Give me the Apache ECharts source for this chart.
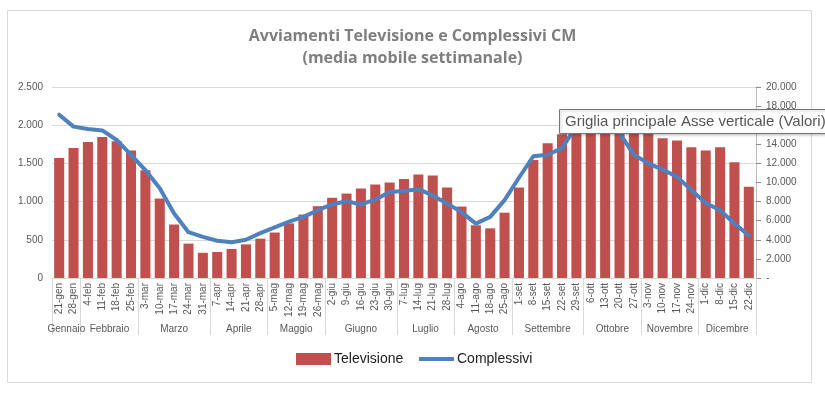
<!DOCTYPE html>
<html>
<head>
<meta charset="utf-8">
<script src="https://cdn.jsdelivr.net/npm/echarts@6/dist/echarts.min.js"></script>
<style>
html, body { margin: 0; padding: 0; background: #fff; }
#chart { width: 825px; height: 396px; }
</style>
</head>
<body>
<div id="chart"></div>
<script>
// settimane (asse categorie)
var settimane = ['21-gen','28-gen','4-feb','11-feb','18-feb','25-feb','3-mar','10-mar','17-mar','24-mar','31-mar',
	'7-apr','14-apr','21-apr','28-apr','5-mag','12-mag','19-mag','26-mag','2-giu','9-giu','16-giu','23-giu','30-giu',
	'7-lug','14-lug','21-lug','28-lug','4-ago','11-ago','18-ago','25-ago','1-set','8-set','15-set','22-set','29-set',
	'6-ott','13-ott','20-ott','27-ott','3-nov','10-nov','17-nov','24-nov','1-dic','8-dic','15-dic','22-dic'];
// mesi e numero di settimane per mese
var mesi = ['Gennaio','Febbraio','Marzo','Aprile','Maggio','Giugno','Luglio','Agosto','Settembre','Ottobre','Novembre','Dicembre'];
var settimaneMese = [2,4,5,4,4,5,4,4,5,4,4,4];
// Televisione (asse sinistro)
var televisione = [1570,1700,1780,1845,1790,1670,1410,1040,700,450,330,
	340,380,440,515,595,715,830,940,1050,1105,1170,1225,1250,
	1295,1355,1340,1185,935,690,650,855,1185,1545,1765,1880,1950,
	2000,2050,2000,1950,1910,1830,1800,1710,1670,1710,1515,1195];
// Complessivi (asse destro)
var complessivi = [17100,15850,15600,15450,14450,12900,11300,9400,6750,4800,4300,
	3900,3750,4000,4700,5300,5900,6400,7100,7700,8050,7700,8200,9000,
	9100,9300,8650,7800,6900,5700,6400,8150,10500,12750,12900,13600,15900,
	16300,16200,15200,12900,12000,11350,10600,9200,7850,7100,5700,4450];

function migliaia(v) {
	return String(v).replace(/\B(?=(\d{3})+(?!\d))/g, '.');
}

// asse dei mesi: mezze settimane, etichetta al centro del mese
var mezzi = [];
for (var k = 0; k <= settimane.length * 2; k++) mezzi.push('');
var confini = {};
var inizio = 0;
for (var m = 0; m < mesi.length; m++) {
	confini[inizio * 2] = true;
	mezzi[inizio * 2 + settimaneMese[m]] = mesi[m];
	inizio += settimaneMese[m];
}
confini[inizio * 2] = true;

var myChart = echarts.init(document.getElementById('chart'));
var option = {
	backgroundColor: '#fff',
	animation: false,
	textStyle: { fontFamily: 'Liberation Sans' },
	title: {
		text: 'Avviamenti Televisione e Complessivi CM\n(media mobile settimanale)',
		left: 'center',
		top: 20,
		textStyle: {
			color: '#7f7f7f',
			fontSize: 16,
			fontWeight: 'bold',
			lineHeight: 22,
			fontFamily: 'Open Sans'
		}
	},
	legend: [ {
		left: 291,
		top: 347,
		itemWidth: 35,
		itemHeight: 12,
		textStyle: { color: '#222', fontSize: 14, padding: [0, 0, 0, -2] },
		data: [ { name: 'Televisione', icon: 'rect' } ]
	}, {
		left: 414,
		top: 347,
		itemWidth: 35,
		itemHeight: 4,
		textStyle: { color: '#222', fontSize: 14, padding: [0, 0, 0, -2] },
		data: [ { name: 'Complessivi', icon: 'rect' } ]
	} ],
	grid: { left: 52, right: 69, top: 87, bottom: 118 },
	xAxis: [ {
		type: 'category',
		data: settimane,
		axisLine: { lineStyle: { color: '#d9d9d9' } },
		axisTick: { show: false },
		axisLabel: { rotate: 90, fontSize: 10, color: '#595959', margin: 5, interval: 0 }
	}, {
		type: 'category',
		position: 'bottom',
		boundaryGap: false,
		data: mezzi,
		axisLine: { show: false },
		axisTick: {
			show: true,
			length: 57,
			lineStyle: { color: '#d9d9d9' },
			interval: function(i) { return confini[i] === true; }
		},
		axisLabel: {
			fontSize: 10,
			color: '#595959',
			margin: 46,
			interval: function(i, v) { return v !== ''; }
		}
	} ],
	yAxis: [ {
		type: 'value',
		min: 0,
		max: 2500,
		interval: 500,
		axisLine: { show: false },
		axisTick: { show: false },
		axisLabel: { fontSize: 10, color: '#595959', margin: 9, formatter: migliaia },
		splitLine: { lineStyle: { color: '#d9d9d9' } }
	}, {
		type: 'value',
		min: 0,
		max: 20000,
		interval: 2000,
		position: 'right',
		axisLine: { show: true, lineStyle: { color: '#bfbfbf' } },
		axisTick: { show: true, length: 5, lineStyle: { color: '#8c8c8c' } },
		axisLabel: {
			fontSize: 10, color: '#595959', margin: 10,
			formatter: function(v) { return v === 0 ? '-' : migliaia(v); }
		},
		splitLine: { show: false }
	} ],
	series: [ {
		name: 'Televisione',
		type: 'bar',
		data: televisione,
		barWidth: '70%',
		itemStyle: { color: '#c0504d' }
	}, {
		name: 'Complessivi',
		type: 'line',
		yAxisIndex: 1,
		data: complessivi,
		symbol: 'none',
		lineStyle: { color: '#4f81bd', width: 4, join: 'round', cap: 'round' },
		itemStyle: { color: '#4f81bd' },
		z: 3
	} ],
	graphic: [ {
		type: 'rect',
		shape: { x: 7.5, y: 10.5, width: 804, height: 372 },
		style: { fill: 'none', stroke: '#d9d9d9', lineWidth: 1 },
		silent: true
	}, {
		// suggerimento di Excel rimasto nella cattura
		type: 'rect',
		z: 100,
		zlevel: 1,
		shape: { x: 559.5, y: 109.5, width: 280, height: 24 },
		style: {
			fill: '#fff', stroke: '#767676', lineWidth: 1,
			shadowBlur: 3, shadowColor: 'rgba(0,0,0,0.25)', shadowOffsetX: 1, shadowOffsetY: 1
		}
	}, {
		type: 'text',
		z: 101,
		zlevel: 1,
		x: 565,
		y: 122,
		style: {
			text: 'Griglia principale Asse verticale (Valori)',
			fill: '#575757',
			fontSize: 15,
			fontFamily: 'Liberation Sans',
			verticalAlign: 'middle'
		}
	} ]
};
myChart.setOption(option);

window.addEventListener('resize', function() {
	myChart.resize();
});
</script>
</body>
</html>
